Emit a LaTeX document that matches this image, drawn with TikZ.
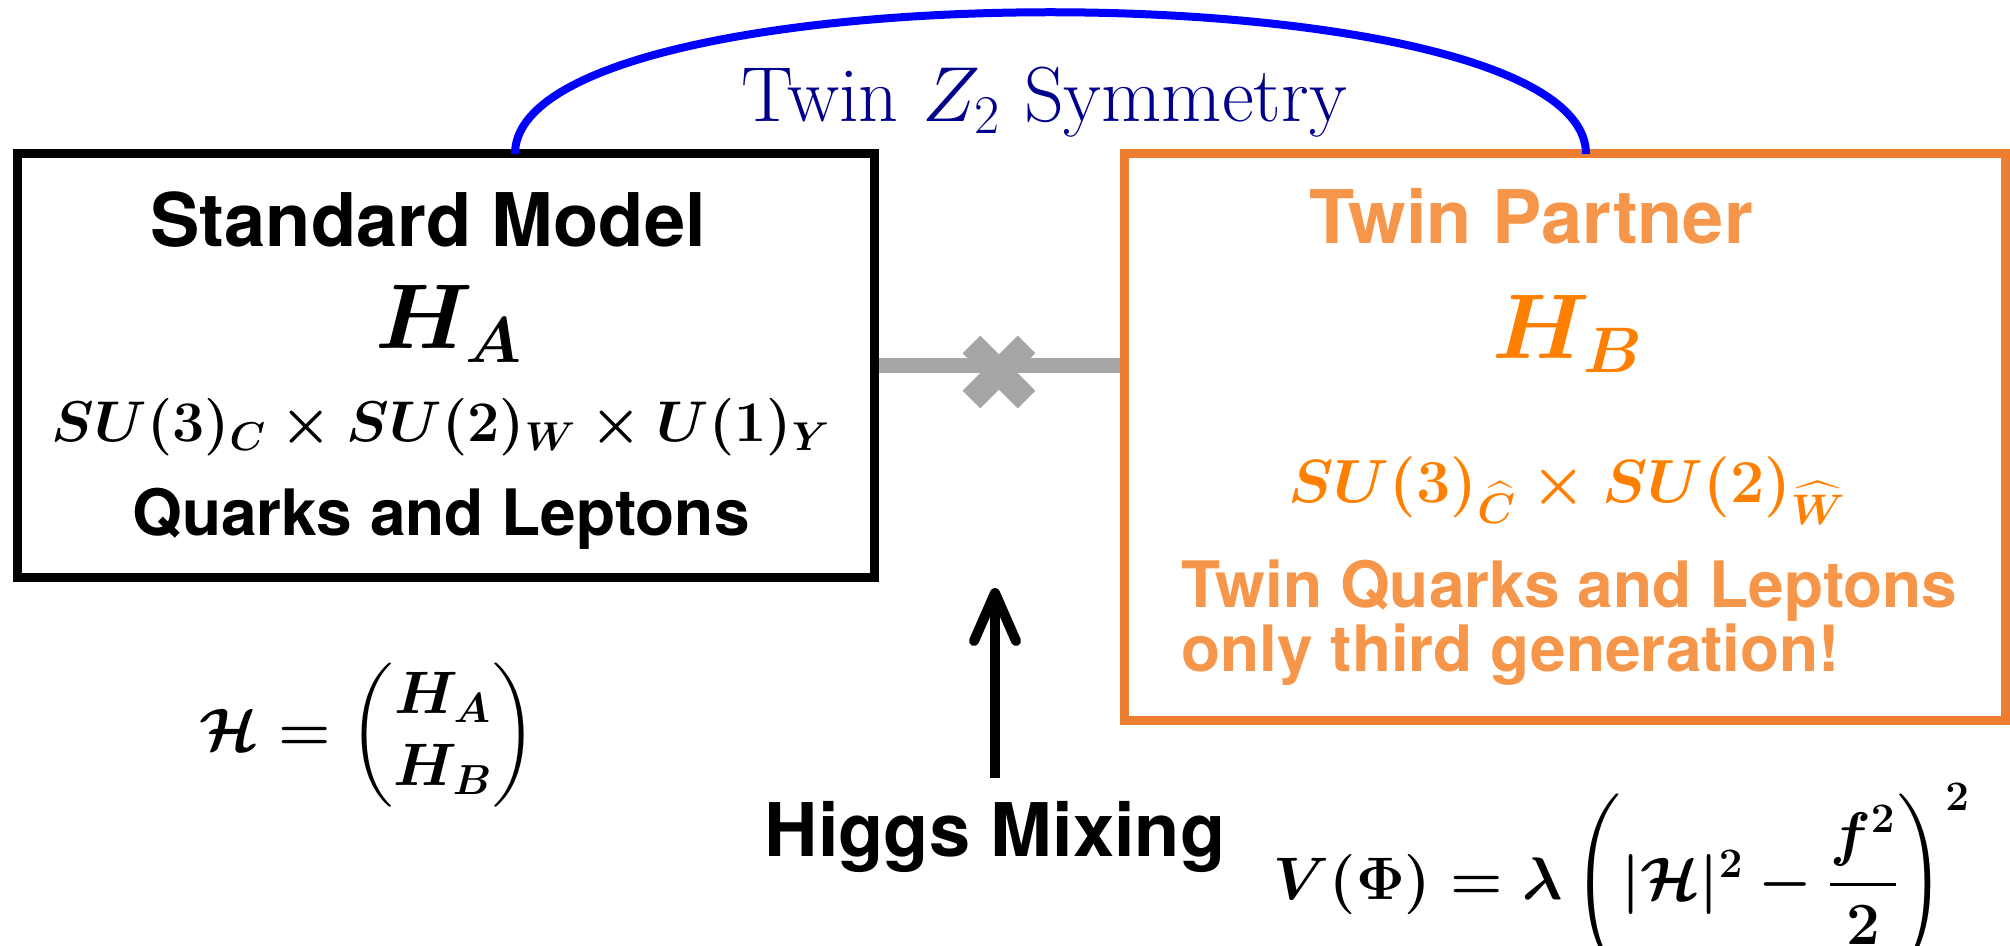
\RequirePackage{fix-cm}
\documentclass[tikz,border=0pt]{standalone}
\usepackage{amsmath,amssymb}
\usepackage{fontspec}
\newfontfamily\hel{TeX Gyre Heros}
\usetikzlibrary{arrows.meta,calc}
\definecolor{boxorange}{HTML}{ED7D31}
\definecolor{txtorange}{HTML}{F5964A}
\definecolor{mathorange}{HTML}{FF8000}
\definecolor{navyz}{RGB}{0,0,140}
\definecolor{xgray}{HTML}{A6A6A6}
\begin{document}
\begin{tikzpicture}[x=0.5pt,y=-0.5pt,
  txt/.style={inner sep=0pt, anchor=base},
  title/.style={txt, font=\hel\bfseries\fontsize{37}{44}\selectfont},
  sub/.style={txt, font=\hel\bfseries\fontsize{32}{38}\selectfont},
  bigmath/.style={txt, font=\fontsize{46}{52}\selectfont\boldmath},
  grpmath/.style={txt, font=\fontsize{28.7}{34}\selectfont\boldmath},
  eqmath/.style={inner sep=0pt, font=\fontsize{30}{36}\selectfont\boldmath},
  panel/.style={draw, line width=4.5pt, inner sep=0pt, fill=none}]
\useasboundingbox (0,0) rectangle (2010,946);

% boxes
\node[panel, minimum width=428.5pt, minimum height=212pt] (sm) at (445.5,366) {};
\node[panel, draw=boxorange, minimum width=440.5pt, minimum height=283.5pt] (tp) at (1564.5,437.5) {};

% symmetry arc
\coordinate (arcL) at (515,154);
\coordinate (arcR) at (1586,154);
\draw[blue, line width=4pt] (arcL) .. controls ($(arcL)+(0,-189)$) and ($(arcR)+(0,-189)$) .. (arcR);
\node[txt, text=navyz, font=\fontsize{39}{46}\selectfont] (sym) at (1044,122) {Twin $Z_2$ Symmetry};

% left box text
\node[title] (smt) at (428,247) {Standard Model};
\node[bigmath] (ha) at (449,349) {$H_A$};
\node[grpmath] (smg) at (441,442) {$SU(3)_C \times SU(2)_W \times U(1)_Y$};
\node[sub] (smq) at (441,536) {Quarks and Leptons};

% right box text
\node[title, text=txtorange] (tpt) at (1531,244) {Twin Partner};
\node[bigmath, text=mathorange] (hb) at (1568,359) {$H_B$};
\node[grpmath, text=mathorange, font=\fontsize{30.5}{36}\selectfont\boldmath] (tpg) at (1567,503) {$SU(3)_{\widehat{C}} \times SU(2)_{\widehat{W}}$};
\node[sub, text=txtorange, anchor=base west] (tpq) at (1181,608) {Twin Quarks and Leptons};
\node[sub, text=txtorange, anchor=base west] (tpo) at (1181,672) {only third generation!};

% mixing line and cross
\draw[xgray, line width=7.5pt] (sm.east) -- (sm.east -| tp.west);
\coordinate (xc) at (999,372);
\draw[xgray, line width=12.5pt] ($(xc)+(-27.6,-27.6)$) -- ($(xc)+(27.6,27.6)$);
\draw[xgray, line width=12.5pt] ($(xc)+(-27.6,27.6)$) -- ($(xc)+(27.6,-27.6)$);

% arrow
\coordinate (atail) at (995,778);
\coordinate (atip) at (995,588);
\draw[line width=5pt, -{Straight Barb[length=24pt,width=21pt,round]}] (atail) -- (atip);
\node[title] (hm) at (995,856) {Higgs Mixing};

% formulas
\node[eqmath] (hvec) at (368,735) {$\mathcal{H} = \begin{pmatrix} H_A \\ H_B \end{pmatrix}$};
\node[eqmath] (pot) at (1622,879) {$V(\Phi) = \lambda\left(|\mathcal{H}|^2 - \dfrac{f^2}{2}\right)^2$};
\end{tikzpicture}
\end{document}
